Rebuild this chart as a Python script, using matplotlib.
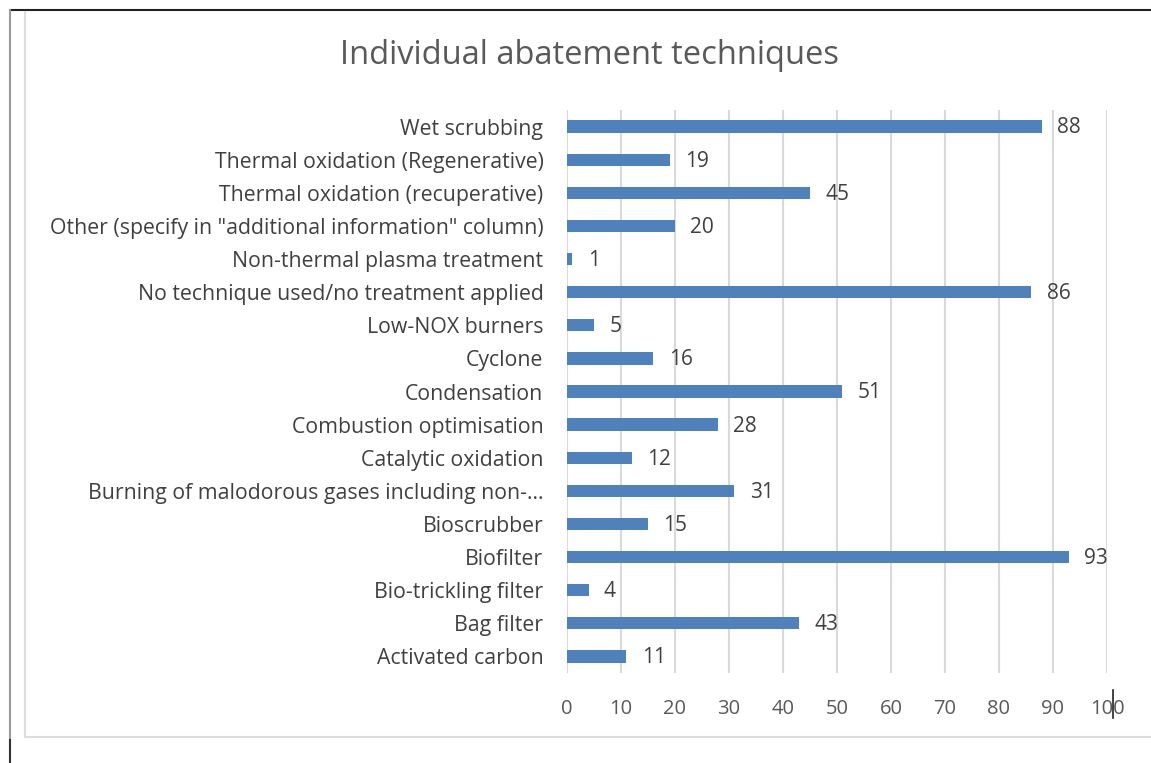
import matplotlib.pyplot as plt
from matplotlib.lines import Line2D

techniques = [
    "Activated carbon",
    "Bag filter",
    "Bio-trickling filter",
    "Biofilter",
    "Bioscrubber",
    "Burning of malodorous gases including non-...",
    "Catalytic oxidation",
    "Combustion optimisation",
    "Condensation",
    "Cyclone",
    "Low-NOX burners",
    "No technique used/no treatment applied",
    "Non-thermal plasma treatment",
    "Other (specify in \"additional information\" column)",
    "Thermal oxidation (recuperative)",
    "Thermal oxidation (Regenerative)",
    "Wet scrubbing",
]
counts = [11, 43, 4, 93, 15, 31, 12, 28, 51, 16, 5, 86, 1, 20, 45, 19, 88]
x_ticks = [0, 10, 20, 30, 40, 50, 60, 70, 80, 90, 100]

plt.rcParams['font.family'] = ['Open Sans', 'DejaVu Sans']

fig = plt.figure(figsize=(11.51, 7.63), dpi=100)
ax = fig.add_axes([567 / 1151, 1 - 673 / 763, 540 / 1151, 563 / 763])

pos = list(range(len(techniques)))
ax.barh(pos, counts, height=0.37, color="#4F81BD", zorder=3)
for p, c in zip(pos, counts):
    ax.annotate(str(c), (c, p), xytext=(11, -1), textcoords="offset points",
                va="center", ha="left", fontsize=15, color="#404040")

ax.set_xlim(0, 100)
ax.set_ylim(-0.5, len(techniques) - 0.5)
ax.set_xticks(x_ticks)
ax.set_xticklabels([str(t) for t in x_ticks], fontsize=14.5, color="#595959")
ax.set_yticks(pos)
ax.set_yticklabels(techniques, fontsize=15.3, color="#404040")
ax.tick_params(axis="both", length=0)
ax.tick_params(axis="x", pad=19)
ax.tick_params(axis="y", pad=17)
ax.grid(axis="x", color="#D9D9D9", linewidth=1.5, zorder=0)
for s in ax.spines.values():
    s.set_visible(False)

fig.text(590 / 1151, 1 - 55 / 763, "Individual abatement techniques",
         ha="center", va="center", fontsize=23.5, color="#595959")

# screenshot frame lines
W, H = 1151, 763
def fline(x0, y0, x1, y1, color, lw):
    fig.add_artist(Line2D([x0 / W, x1 / W], [1 - y0 / H, 1 - y1 / H],
                          color=color, linewidth=lw, transform=fig.transFigure))

fline(10, 10, W, 10, "#222222", 1.5)
fline(10, 10, 10, 740, "#999999", 1.5)
fline(10, 740, 10, H, "#333333", 1.5)
fline(25, 12, 25, 737, "#DDDDDD", 1.5)
fline(25, 737, W, 737, "#DDDDDD", 1.5)
fline(1113, 690, 1113, 718, "#222222", 1.2)

fig.savefig("out.png", dpi=100)
